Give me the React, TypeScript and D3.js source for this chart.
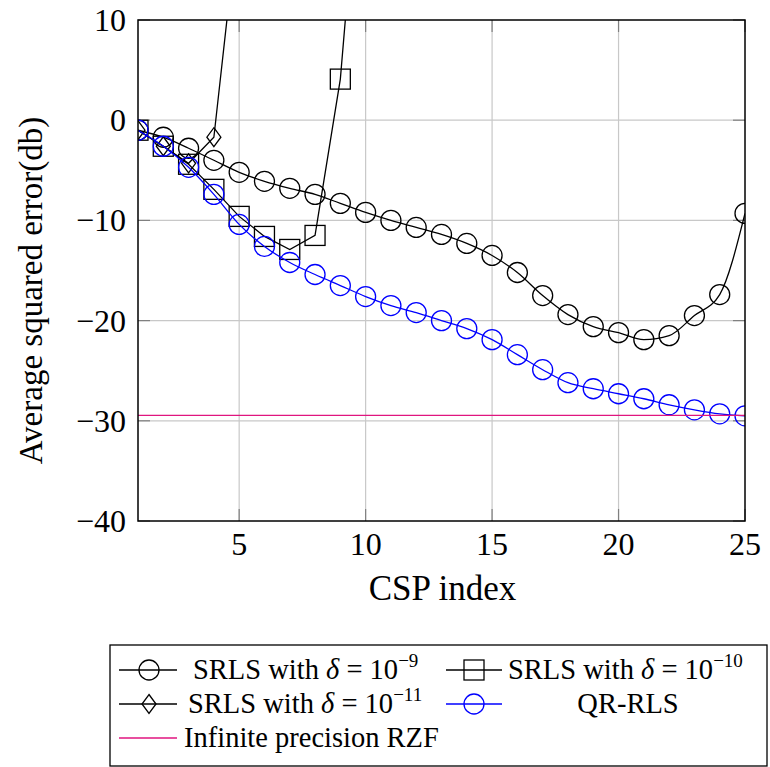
import React from 'react';
import * as d3 from 'd3';

// CSP index (x) and average squared error in dB for each series
const cspIndex = [1, 2, 3, 4, 5, 6, 7, 8, 9, 10, 11, 12, 13, 14, 15, 16, 17, 18, 19, 20, 21, 22, 23, 24, 25];
const srls9 = [-1.0, -1.7, -2.8, -4.0, -5.2, -6.1, -6.8, -7.4, -8.3, -9.2, -10.0, -10.7, -11.4, -12.3, -13.5, -15.2, -17.5, -19.4, -20.6, -21.2, -21.9, -21.5, -19.5, -17.4, -9.3];
const srls10 = [-1.0, -2.6, -4.4, -6.9, -9.6, -11.6, -12.9, -11.5, 4.1, 34];
const srls11 = [-1.0, -2.6, -4.3, -1.7, 21];
const qrRls = [-1.0, -2.6, -4.7, -7.4, -10.4, -12.6, -14.2, -15.4, -16.5, -17.6, -18.5, -19.2, -20.0, -20.8, -21.9, -23.4, -24.9, -26.2, -26.8, -27.3, -27.8, -28.4, -28.9, -29.3, -29.5];
const rzfLevel = -29.45;

const xTicks = [5, 10, 15, 20, 25];
const yTicks = [-40, -30, -20, -10, 0, 10];

const left = 138, right = 745, top = 20, bottom = 521;
const TXT = { fontFamily: "'Liberation Serif'" };
const BLUE = '#0000ff';
const PINK = '#e0157f';
const SW = 1.3;

const x = d3.scaleLinear().domain([1, 25]).range([left, right]);
const y = d3.scaleLinear().domain([-40, 10]).range([bottom, top]);

const smooth = d3.line<number>().x((_, i) => x(cspIndex[i])).y(d => y(d)).curve(d3.curveMonotoneX);
const straight = d3.line<number>().x((_, i) => x(cspIndex[i])).y(d => y(d));

const diamond = (cx: number, cy: number) => `M${cx},${cy - 9.5}L${cx + 7},${cy}L${cx},${cy + 9.5}L${cx - 7},${cy}Z`;
const fmt = (v: number) => (v < 0 ? '\u2212' + Math.abs(v) : String(v));

// text drawn at 28px and scaled up
const Label = ({ px, py, size, anchor = 'start', rotate = 0, children }:
  { px: number; py: number; size: number; anchor?: string; rotate?: number; children: React.ReactNode }) => (
  <g transform={`translate(${px},${py}) rotate(${rotate}) scale(${size / 28})`}>
    <text x={0} y={0} fontSize={28} textAnchor={anchor} style={TXT}>{children}</text>
  </g>
);

const Circles = ({ vals, color }: { vals: number[]; color: string }) => (
  <g>
    {vals.map((d, i) => (
      <circle key={i} cx={x(cspIndex[i])} cy={y(d)} r={10} fill="none" stroke={color} strokeWidth={SW} />
    ))}
  </g>
);

const DeltaLabel = ({ tx, cy, exp }: { tx: number; cy: number; exp: string }) => (
  <text x={tx} y={cy + 9} fontSize={28.5} style={TXT}>
    SRLS with <tspan fontStyle="italic">{'\u03b4'}</tspan> = 10
    <tspan dy={-12} fontSize={19}>{exp}</tspan>
  </text>
);

const App = () => {
  const rows = [670, 704, 738];
  return (
    <svg width={770} height={767}
      style={{ position: 'absolute', left: 0, top: 0, background: 'white' }}>
      <defs>
        <clipPath id="plot-clip">
          <rect x={left} y={top} width={right - left} height={bottom - top} />
        </clipPath>
      </defs>

      {/* grid */}
      <g stroke="#c8c8c8" strokeWidth={1.2}>
        {xTicks.filter(t => t < 25).map(t => (
          <line key={'gx' + t} x1={x(t)} x2={x(t)} y1={top} y2={bottom} />
        ))}
        {yTicks.filter(t => t > -40 && t < 10).map(t => (
          <line key={'gy' + t} x1={left} x2={right} y1={y(t)} y2={y(t)} />
        ))}
      </g>

      {/* tick marks */}
      <g stroke="#808080" strokeWidth={1.2}>
        {xTicks.map(t => (
          <g key={'tx' + t}>
            <line x1={x(t)} x2={x(t)} y1={bottom} y2={bottom - 12} />
            <line x1={x(t)} x2={x(t)} y1={top} y2={top + 12} />
          </g>
        ))}
        {yTicks.map(t => (
          <g key={'ty' + t}>
            <line x1={left} x2={left + 12} y1={y(t)} y2={y(t)} />
            <line x1={right} x2={right - 12} y1={y(t)} y2={y(t)} />
          </g>
        ))}
      </g>

      <g clipPath="url(#plot-clip)">
        {/* SRLS delta = 1e-9 */}
        <path d={smooth(srls9) || ''} fill="none" stroke="black" strokeWidth={SW} />
        <Circles vals={srls9} color="black" />

        {/* SRLS delta = 1e-10 */}
        <path d={straight(srls10) || ''} fill="none" stroke="black" strokeWidth={SW} />
        {srls10.map((d, i) => (
          <rect key={'s' + i} x={x(cspIndex[i]) - 10} y={y(d) - 10} width={20} height={20}
            fill="none" stroke="black" strokeWidth={SW} />
        ))}

        {/* SRLS delta = 1e-11 */}
        <path d={straight(srls11) || ''} fill="none" stroke="black" strokeWidth={SW} />
        {srls11.map((d, i) => (
          <path key={'d' + i} d={diamond(x(cspIndex[i]), y(d))} fill="none" stroke="black" strokeWidth={SW} />
        ))}

        {/* QR-RLS */}
        <path d={smooth(qrRls) || ''} fill="none" stroke={BLUE} strokeWidth={SW} />
        <Circles vals={qrRls} color={BLUE} />

        {/* infinite precision RZF */}
        <line x1={left} x2={right} y1={y(rzfLevel)} y2={y(rzfLevel)} stroke={PINK} strokeWidth={SW} />
      </g>

      <rect x={left} y={top} width={right - left} height={bottom - top} fill="none" stroke="black" strokeWidth={1.5} />

      {/* tick labels */}
      {xTicks.map(t => (
        <Label key={'lx' + t} px={x(t)} py={555} size={32} anchor="middle">{fmt(t)}</Label>
      ))}
      {yTicks.map(t => (
        <Label key={'ly' + t} px={126} py={y(t) + 11} size={32} anchor="end">{fmt(t)}</Label>
      ))}

      {/* axis labels */}
      <Label px={(left + right) / 2 + 1} py={600} size={35} anchor="middle">CSP index</Label>
      <Label px={42} py={(top + bottom) / 2 + 20} size={33} anchor="middle" rotate={-90}>
        Average squared error(db)
      </Label>

      {/* legend */}
      <rect x={110} y={645} width={657} height={121} fill="white" stroke="black" strokeWidth={1.3} />

      <line x1={119} x2={177} y1={rows[0]} y2={rows[0]} stroke="black" strokeWidth={SW} />
      <circle cx={149} cy={rows[0]} r={10} fill="none" stroke="black" strokeWidth={SW} />
      <DeltaLabel tx={193} cy={rows[0]} exp={'\u22129'} />

      <line x1={446} x2={502} y1={rows[0]} y2={rows[0]} stroke="black" strokeWidth={SW} />
      <rect x={464} y={rows[0] - 10} width={20} height={20} fill="none" stroke="black" strokeWidth={SW} />
      <DeltaLabel tx={508} cy={rows[0]} exp={'\u221210'} />

      <line x1={119} x2={177} y1={rows[1]} y2={rows[1]} stroke="black" strokeWidth={SW} />
      <path d={diamond(149, rows[1])} fill="none" stroke="black" strokeWidth={SW} />
      <DeltaLabel tx={188} cy={rows[1]} exp={'\u221211'} />

      <line x1={446} x2={502} y1={rows[1]} y2={rows[1]} stroke={BLUE} strokeWidth={SW} />
      <circle cx={474} cy={rows[1]} r={10} fill="none" stroke={BLUE} strokeWidth={SW} />
      <text x={628} y={rows[1] + 9} textAnchor="middle" fontSize={28.5} style={TXT}>QR-RLS</text>

      <line x1={119} x2={177} y1={rows[2]} y2={rows[2]} stroke={PINK} strokeWidth={SW} />
      <text x={184} y={rows[2] + 9} fontSize={28.5} style={TXT}>Infinite precision RZF</text>
    </svg>
  );
};

export default App;
